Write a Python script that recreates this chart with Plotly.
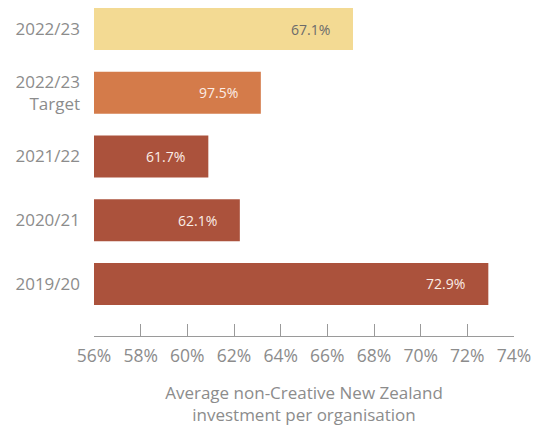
import plotly.graph_objects as go

categories = ["2022/23", "2022/23<br>Target", "2021/22", "2020/21", "2019/20"]
bar_lengths = [67.1, 63.15, 60.9, 62.25, 72.9]
value_labels = ["67.1%", "97.5%", "61.7%", "62.1%", "72.9%"]
bar_colors = ["#F3DA93", "#D47B4A", "#AB523C", "#AB523C", "#AB523C"]
label_colors = ["#6b6b6b", "#FBEDE6", "#FBEDE6", "#FBEDE6", "#FBEDE6"]
x_ticks = [56, 58, 60, 62, 64, 66, 68, 70, 72, 74]
x_tick_labels = [f"{v}%" for v in x_ticks]
axis_title = "Average non-Creative New Zealand<br>investment per organisation"

FONT = "Open Sans"
GREY = "#8c8c8c"

fig = go.Figure()
fig.add_trace(go.Bar(
    y=categories,
    x=[v - 56 for v in bar_lengths],
    base=56,
    orientation="h",
    marker=dict(color=bar_colors, line=dict(width=0)),
    width=0.66,
    hoverinfo="skip",
))

for cat, v, lab, col in zip(categories, bar_lengths, value_labels, label_colors):
    fig.add_annotation(
        x=v, y=cat, xref="x", yref="y",
        text=lab, showarrow=False,
        xanchor="right", xshift=-21,
        font=dict(family=FONT, size=14, color=col),
    )

fig.update_layout(
    width=537, height=426,
    margin=dict(l=94, r=23, t=0, b=90),
    paper_bgcolor="white", plot_bgcolor="white",
    showlegend=False,
    font=dict(family=FONT, color=GREY),
    xaxis=dict(
        range=[56, 74],
        tickvals=x_ticks, ticktext=x_tick_labels,
        ticks="inside", ticklen=12, tickcolor="#9a9a9a", tickwidth=1,
        showline=True, linecolor="#9a9a9a", linewidth=1,
        showgrid=False, zeroline=False,
        tickfont=dict(family=FONT, size=17.5, color=GREY),
        ticklabelstandoff=4,
        title=dict(text=axis_title, font=dict(family=FONT, size=17, color=GREY), standoff=24),
    ),
    yaxis=dict(
        type="category",
        range=[4.816, -0.455],
        showgrid=False, zeroline=False, showline=False, ticks="",
        tickfont=dict(family=FONT, size=17, color=GREY),
        ticklabelstandoff=13,
    ),
)

fig.write_html("out.html")
